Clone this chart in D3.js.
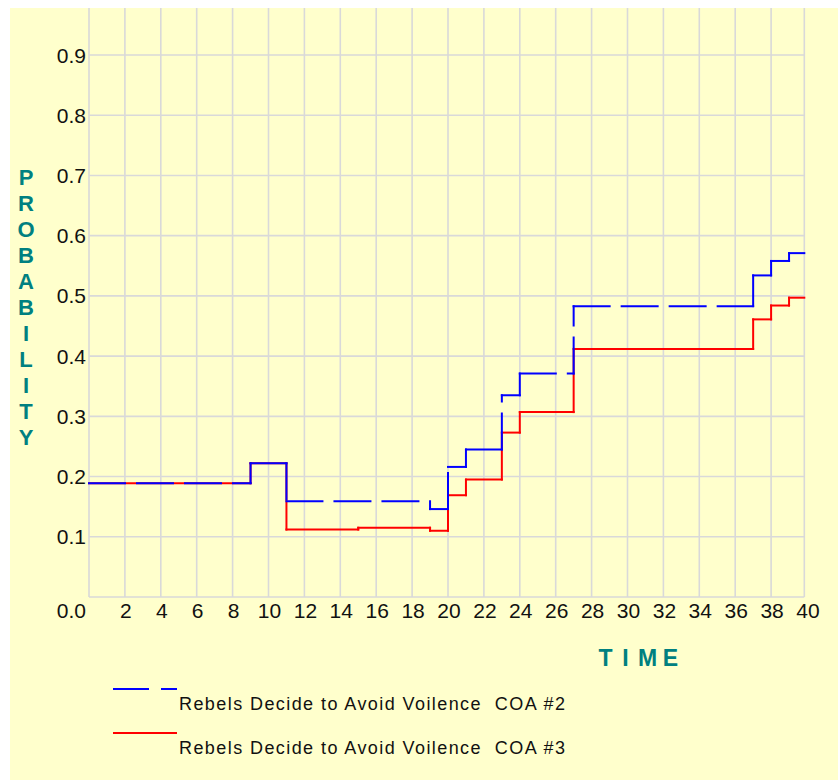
<!DOCTYPE html>
<html>
<head>
<meta charset="utf-8">
<script src="https://cdn.jsdelivr.net/npm/d3@7"></script>
<style>
    body { margin: 0; background: #ffffff; }
    svg { display: block; }
    text { font-family: "Liberation Sans", Arial, sans-serif; }
</style>
</head>
<body>
<div id="chart"></div>
<script>
// Data
const xTicks = [2, 4, 6, 8, 10, 12, 14, 16, 18, 20, 22, 24, 26, 28, 30, 32, 34, 36, 38, 40];
const yTicks = [0.1, 0.2, 0.3, 0.4, 0.5, 0.6, 0.7, 0.8, 0.9];
const timeEnd = 39.85;

const coa2Times  = [0, 9, 11, 19, 20, 21, 23, 24, 27, 37, 38, 39];
const coa2Values = [0.189, 0.222, 0.159, 0.146, 0.216, 0.245, 0.335, 0.371, 0.483, 0.534, 0.558, 0.571];

const coa3Times  = [0, 9, 11, 15, 19, 20, 21, 23, 24, 27, 37, 38, 39];
const coa3Values = [0.189, 0.222, 0.112, 0.115, 0.110, 0.169, 0.195, 0.273, 0.307, 0.412, 0.461, 0.484, 0.497];

const legendLabels = [
    'Rebels Decide to Avoid Voilence  COA #2',
    'Rebels Decide to Avoid Voilence  COA #3'
];

// Layout
const config = {
    width: 838,
    height: 780,
    bg: '#ffffcc',
    grid: '#d9d9d9',
    teal: '#008080',
    blue: '#0000ff',
    red: '#ff0000',
    dash: '36,12'
};

const x = d3.scaleLinear().domain([0, 40]).range([89, 807]);
const y = d3.scaleLinear().domain([0, 0.9]).range([597, 55]);
const plotTop = 8;

const svg = d3.select('#chart')
    .append('svg')
    .attr('width', config.width)
    .attr('height', config.height);

// yellow panel (white strip left and top)
svg.append('rect')
    .attr('x', 10).attr('y', 8)
    .attr('width', config.width - 10).attr('height', config.height - 8)
    .attr('fill', config.bg);

// Grid
const grid = svg.append('g');
grid.selectAll('.vgrid')
    .data([0, ...xTicks.filter(t => t < 40), timeEnd])
    .join('line')
    .attr('x1', d => x(d)).attr('x2', d => x(d))
    .attr('y1', plotTop).attr('y2', y(0))
    .attr('stroke', config.grid)
    .attr('stroke-width', 1.6);
grid.selectAll('.hgrid')
    .data([0, ...yTicks])
    .join('line')
    .attr('x1', x(0)).attr('x2', x(timeEnd))
    .attr('y1', d => y(d)).attr('y2', d => y(d))
    .attr('stroke', config.grid)
    .attr('stroke-width', 1.6);

// Tick labels
svg.append('g').selectAll('text')
    .data(yTicks)
    .join('text')
    .attr('x', 86)
    .attr('y', d => y(d))
    .attr('dy', '0.36em')
    .attr('text-anchor', 'end')
    .attr('font-size', 21)
    .attr('fill', '#111')
    .text(d => d.toFixed(1));

svg.append('text')
    .attr('x', 86).attr('y', 610)
    .attr('dy', '0.36em')
    .attr('text-anchor', 'end')
    .attr('font-size', 21)
    .attr('fill', '#111')
    .text('0.0');

svg.append('g').selectAll('text')
    .data(xTicks)
    .join('text')
    .attr('x', d => x(d) + 1)
    .attr('y', 610)
    .attr('dy', '0.36em')
    .attr('text-anchor', 'middle')
    .attr('font-size', 21)
    .attr('fill', '#111')
    .text(d => d);

// Axis titles, letter by letter
const yTitle = 'PROBABILITY'.split('');
svg.append('g').selectAll('text')
    .data(yTitle)
    .join('text')
    .attr('x', 26)
    .attr('y', (d, i) => 177 + i * 26)
    .attr('dy', '0.36em')
    .attr('text-anchor', 'middle')
    .attr('font-size', 22)
    .attr('font-weight', 'bold')
    .attr('fill', config.teal)
    .text(d => d);

const xTitle = [['T', 605.5], ['I', 625.5], ['M', 647.5], ['E', 670.5]];
svg.append('g').selectAll('text')
    .data(xTitle)
    .join('text')
    .attr('x', d => d[1])
    .attr('y', 658)
    .attr('dy', '0.36em')
    .attr('text-anchor', 'middle')
    .attr('font-size', 23)
    .attr('font-weight', 'bold')
    .attr('fill', config.teal)
    .text(d => d[0]);

// Step segments: each piece drawn on its own so the dash restarts
function stepSegments(times, values) {
    const segs = [];
    times.forEach((t, i) => {
        const tNext = i < times.length - 1 ? times[i + 1] : timeEnd;
        segs.push({ x1: t, y1: values[i], x2: tNext, y2: values[i] });
        if (i < times.length - 1) {
            segs.push({ x1: tNext, y1: values[i], x2: tNext, y2: values[i + 1] });
        }
    });
    return segs;
}

function drawSeries(times, values, color, dash) {
    svg.append('g').selectAll('line')
        .data(stepSegments(times, values))
        .join('line')
        .attr('x1', d => x(d.x1)).attr('x2', d => x(d.x2))
        .attr('y1', d => y(d.y1)).attr('y2', d => y(d.y2))
        .attr('stroke', color)
        .attr('stroke-width', 2)
        .attr('stroke-linecap', 'square')
        .attr('stroke-dasharray', dash);
}

drawSeries(coa3Times, coa3Values, config.red, null);
drawSeries(coa2Times, coa2Values, config.blue, config.dash);

// Legend
const legend = svg.append('g');
const legendRows = [
    { color: config.blue, dash: config.dash, y: 689, label: legendLabels[0] },
    { color: config.red, dash: null, y: 733, label: legendLabels[1] }
];
legend.selectAll('line')
    .data(legendRows)
    .join('line')
    .attr('x1', 113).attr('x2', 177)
    .attr('y1', d => d.y).attr('y2', d => d.y)
    .attr('stroke', d => d.color)
    .attr('stroke-width', 2)
    .attr('stroke-dasharray', d => d.dash);
legend.selectAll('text')
    .data(legendRows)
    .join('text')
    .attr('x', 179)
    .attr('y', d => d.y + 21)
    .attr('font-size', 18)
    .attr('font-family', '"DejaVu Sans", sans-serif')
    .attr('textLength', 386)
    .attr('lengthAdjust', 'spacing')
    .attr('fill', '#111')
    .style('white-space', 'pre')
    .text(d => d.label);
</script>
</body>
</html>
